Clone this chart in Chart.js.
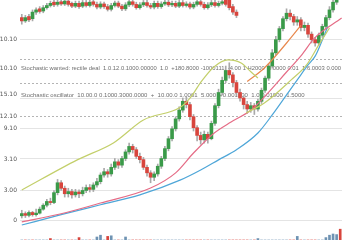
<!DOCTYPE html>
<html>
<head>
<meta charset="utf-8">
<script src="https://cdn.jsdelivr.net/npm/chart.js@4.4.0/dist/chart.umd.min.js"></script>
<style>
    html, body { margin: 0; padding: 0; background: #fff; }
    canvas { display: block; }
</style>
</head>
<body>
<canvas id="chart" width="360" height="240"></canvas>
<script>
// Main candles (index 0..88)
const mainOpen  = [2.0,3.0,2.2,3.5,2.5,3.2,5.0,6.8,8.5,8.0,12.5,17.0,14.5,12.0,13.0,11.5,12.8,12.0,13.5,14.8,14.0,16.0,17.5,20.5,22.0,21.0,24.0,26.5,25.0,28.0,31.0,33.5,32.0,29.0,27.5,24.0,21.5,19.5,21.0,24.5,28.0,32.5,37.0,41.5,46.0,50.0,54.0,52.5,47.0,42.0,38.5,36.5,39.0,37.0,44.0,52.0,58.0,63.5,68.0,66.0,62.5,58.0,55.5,52.5,50.5,52.0,50.5,54.0,59.0,64.5,70.0,76.0,82.0,87.0,91.5,94.0,92.5,90.0,91.0,87.5,88.5,84.5,82.0,80.5,84.0,88.0,92.0,95.5,99.0];
const mainClose = [3.0,2.2,3.5,2.5,3.2,5.0,6.8,8.5,8.0,12.5,17.0,14.5,12.0,13.0,11.5,12.8,12.0,13.5,14.8,14.0,16.0,17.5,20.5,22.0,21.0,24.0,26.5,25.0,28.0,31.0,33.5,32.0,29.0,27.5,24.0,21.5,19.5,21.0,24.5,28.0,32.5,37.0,41.5,46.0,50.0,54.0,52.5,47.0,42.0,38.5,36.5,39.0,37.0,44.0,52.0,58.0,63.5,68.0,66.0,62.5,58.0,55.5,52.5,50.5,52.0,50.5,54.0,59.0,64.5,70.0,76.0,82.0,87.0,91.5,94.0,92.5,90.0,91.0,87.5,88.5,84.5,82.0,80.5,84.0,88.0,92.0,95.5,99.0,102.0];
const mainHigh  = [4.5,3.8,4.2,4.0,5.0,6.0,7.5,9.5,10.0,13.5,18.5,18.0,15.5,14.5,14.0,14.0,13.8,15.0,16.0,16.2,17.0,19.0,21.5,23.5,23.0,25.5,28.0,27.5,29.0,32.0,35.0,34.5,33.0,30.5,28.5,25.0,22.5,22.0,25.5,29.0,33.5,38.0,42.5,47.0,51.5,55.5,56.0,53.5,48.0,43.0,40.0,40.5,40.0,45.0,53.0,59.5,65.0,70.0,71.5,67.0,63.5,59.5,56.5,54.0,53.5,53.0,55.0,60.0,65.5,71.0,77.5,83.5,88.0,92.5,96.0,95.5,93.5,92.5,92.0,90.0,89.5,85.5,83.0,85.0,89.0,93.0,97.0,100.5,104.0];
const mainLow   = [1.0,1.2,1.5,1.8,1.8,2.8,4.5,6.0,7.0,7.5,11.5,13.5,10.5,10.5,10.0,10.5,10.2,11.0,12.5,12.8,13.0,15.0,16.5,19.5,19.5,20.0,23.0,23.5,24.0,27.0,30.0,30.5,28.0,26.0,23.0,20.0,17.0,18.0,20.0,23.5,27.0,31.5,36.0,40.5,45.0,49.0,51.0,45.5,40.5,36.0,34.5,35.0,35.0,36.5,43.0,51.0,57.0,62.5,64.5,60.5,56.5,54.0,50.5,48.5,49.0,48.0,49.5,53.0,58.0,63.5,69.0,75.0,81.0,86.0,90.5,91.0,88.5,88.5,86.0,86.0,83.0,80.5,79.0,79.5,83.0,87.0,91.0,94.5,98.0];

// Upper strip of candles (index 0..60)
const topOpen  = [92.0,90.5,92.5,91.5,94.5,96.0,95.0,96.5,97.5,99.0,98.0,99.2,98.2,99.5,98.5,97.2,98.5,97.2,98.8,97.5,99.2,98.0,96.8,98.2,97.0,95.8,97.5,98.6,97.2,96.0,97.8,99.2,98.0,96.5,97.8,98.8,97.5,96.8,98.5,97.0,98.2,99.0,97.8,98.5,97.2,98.8,97.5,98.2,96.8,98.0,99.2,98.0,96.5,97.8,98.8,97.5,98.5,100.5,101.0,97.0,94.5];
const topClose = [90.5,92.0,91.0,94.5,95.5,94.8,96.5,97.5,98.5,97.8,99.0,98.2,99.5,98.0,97.2,98.5,97.0,98.8,97.5,99.0,98.0,96.8,98.2,97.0,95.8,97.5,98.6,97.2,96.0,97.8,99.2,98.0,96.5,97.8,98.8,97.5,96.8,98.5,97.0,98.2,99.0,97.8,98.5,97.2,98.8,97.5,98.2,96.8,98.0,99.2,98.0,96.5,97.8,98.8,97.5,98.5,99.2,98.0,96.5,94.5,93.0];
const topHigh  = [93.5,93.0,93.5,95.5,96.5,97.0,97.5,98.5,99.5,100.0,100.0,100.0,100.5,100.5,99.0,99.5,99.5,99.8,99.8,100.0,100.0,99.0,99.2,99.0,98.0,98.5,99.5,99.5,98.0,98.8,100.2,100.0,99.0,98.8,99.8,99.8,98.5,99.5,99.5,99.2,100.0,100.0,99.5,99.5,99.8,99.8,99.2,99.0,99.0,100.2,100.0,99.0,98.8,99.8,99.8,99.5,100.2,101.5,101.5,98.0,95.5];
const topLow   = [89.0,89.8,90.2,90.5,93.5,94.0,94.2,95.8,96.8,97.0,97.2,97.5,97.5,97.2,96.5,96.5,96.2,96.5,96.8,96.8,97.2,96.0,96.0,96.2,95.0,95.0,96.8,96.5,95.2,95.2,97.0,97.2,95.8,95.8,97.0,96.8,96.0,96.0,96.2,96.2,97.5,97.0,97.0,96.5,96.5,96.8,96.8,96.0,96.0,97.2,97.2,95.8,95.8,97.0,96.8,96.8,97.8,97.2,95.5,93.5,92.0];

// Volume (index 0..89)
const volume = [0,0,0,0,0,0,0,0,12,0,0,0,0,0,0,0,20,0,0,0,0,25,40,0,30,35,0,0,0,25,0,0,0,0,0,0,0,0,0,0,0,0,0,0,0,0,0,0,0,0,0,0,0,0,0,0,0,0,0,0,0,0,0,0,0,0,12,0,0,0,0,0,0,0,0,0,0,30,0,0,0,0,0,0,0,20,40,50,45,90];

// Moving averages as [index, value] points
const maYellow = [[0,13.7],[15.5,27.4],[25.6,35.1],[34,45.5],[44.4,51.4],[47.3,56],[50.1,62.8],[53.7,69.6],[57.6,72.8],[61.3,71.4],[64.1,67.3],[66,64.6]];
const maYellow2 = [[62.7,48.7],[67.8,53.2],[75.3,63.7],[79.6,70.5],[83,79.6],[86,87.3]];
const maPink = [[0,-0.8],[10.7,2.8],[22,7.8],[36,14.6],[43,21.5],[48,30.5],[53.7,39.5],[58.5,44.6],[64.1,50],[68.3,56.9],[74,67.3],[78.2,75],[81.8,82.7],[89.4,91.8]];
const maOrange = [[63,63],[67.8,69.1],[75.3,83],[78,88.5]];
const maBlue = [[0,-2.2],[11,2.5],[22,7],[33,11.5],[44.4,18.3],[50,22.8],[55,27.4],[60,32],[66,39.6],[70,47.8],[74,56.9],[77,63.7],[80,70.5],[82,74.5],[84,81.8],[85.5,88]];

// Y axis ticks
const tickValues = [82.1, 73.2, 69.1, 62.3, 56.9, 55.1, 47.1, 41.7, 27.8, 13.7, 0];
const tickLabels = ['10.10', '', '10.10', '', '15.10', '', '12.10', '9.10', '3.10', '3.00', '0'];
const gridKinds  = ['solid', 'dashed', 'none', 'dashed', 'none', 'solid', 'dashed', 'solid', 'solid', 'solid', 'solid'];

// Indicator text rows
const rowValues = [69.1, 56.9];
const rowTexts = [
    'Stochastic wanted: rectile deal  1.0.12.0.1000.00000  1.0  +180.8000 -1000111  -4.00 1 H2000  0.0000 0.01  1.6.0003 0.000',
    'Stochastic oscillator  10.00.0 0.1000.3000.0000  +  10.00.0 1.0001  5.000  +0.001000  1.0 0.01000  1.5000'
];

const GREEN = '#3a9a49';
const RED = '#d8453d';

function candles(open, close) {
    return open.map((o, i) => ({ x: i, y: [o, close[i]] }));
}
function wicks(low, high) {
    return low.map((l, i) => ({ x: i, y: [l, high[i]] }));
}
function upColor(open, close) {
    return ctx => (close[ctx.dataIndex] >= open[ctx.dataIndex] ? GREEN : RED);
}
function line(points, color) {
    return {
        type: 'line',
        data: points.map(p => ({ x: p[0], y: p[1] })),
        borderColor: color,
        borderWidth: 1.2,
        pointRadius: 0,
        cubicInterpolationMode: 'monotone',
        order: 1
    };
}

const rowPlugin = {
    id: 'rows',
    beforeDatasetsDraw(chart) {
        const { ctx, chartArea, scales } = chart;
        ctx.save();
        ctx.font = '6px "Liberation Sans"';
        ctx.fillStyle = '#6e6e6e';
        ctx.textBaseline = 'middle';
        rowTexts.forEach((t, k) => {
            ctx.fillText(t, chartArea.left + 1, scales.y.getPixelForValue(rowValues[k]), chartArea.width - 2);
        });
        ctx.restore();
    }
};

new Chart(document.getElementById('chart'), {
    type: 'bar',
    data: {
        datasets: [
            line(maYellow, '#c3cf6a'),
            line(maYellow2, '#c3cf6a'),
            line(maPink, '#e56c86'),
            line(maOrange, '#e8884d'),
            line(maBlue, '#4ea6d8'),
            {
                data: candles(mainOpen, mainClose),
                backgroundColor: upColor(mainOpen, mainClose),
                barThickness: 3,
                grouped: false,
                order: 2
            },
            {
                data: candles(topOpen, topClose),
                backgroundColor: upColor(topOpen, topClose),
                barThickness: 3,
                grouped: false,
                order: 2
            },
            {
                data: wicks(mainLow, mainHigh),
                backgroundColor: '#a9a9a9',
                barThickness: 1,
                grouped: false,
                order: 3
            },
            {
                data: wicks(topLow, topHigh),
                backgroundColor: '#a9a9a9',
                barThickness: 1,
                grouped: false,
                order: 3
            },
            {
                data: volume.map((v, i) => ({ x: i, y: v })),
                yAxisID: 'yv',
                backgroundColor: ctx => {
                    const i = ctx.dataIndex;
                    return mainClose[i] !== undefined && mainClose[i] >= mainOpen[i] ? '#6f93b3' : RED;
                },
                barThickness: 2,
                grouped: false,
                order: 4
            }
        ]
    },
    options: {
        responsive: false,
        animation: false,
        layout: { padding: { left: 0, right: 18, top: 0, bottom: 0 } },
        plugins: {
            legend: { display: false },
            tooltip: { enabled: false }
        },
        scales: {
            x: {
                type: 'linear',
                min: -0.5,
                max: 89.5,
                offset: false,
                display: false
            },
            y: {
                min: -9,
                max: 100,
                afterFit: function(scale) {
                    scale.width = 20;
                    scale.paddingTop = 0;
                    scale.paddingBottom = 0;
                },
                afterBuildTicks: function(scale) {
                    scale.ticks = tickValues.map(v => ({ value: v }));
                },
                ticks: {
                    autoSkip: false,
                    padding: 3,
                    color: '#555',
                    font: { size: 6, family: 'DejaVu Sans' },
                    callback: function(value, index) {
                        return tickLabels[index];
                    }
                },
                grid: {
                    drawTicks: false,
                    lineWidth: 1,
                    color: function(ctx) {
                        const kind = gridKinds[ctx.index];
                        if (kind === 'none') return 'rgba(0,0,0,0)';
                        return kind === 'dashed' ? '#b4b4b4' : '#e4e4e4';
                    }
                },
                border: {
                    display: false,
                    dash: function(ctx) {
                        return gridKinds[ctx.index] === 'dashed' ? [2, 2] : [];
                    }
                }
            },
            yv: {
                min: 0,
                max: 2000,
                display: false
            }
        }
    },
    plugins: [rowPlugin]
});
</script>
</body>
</html>
